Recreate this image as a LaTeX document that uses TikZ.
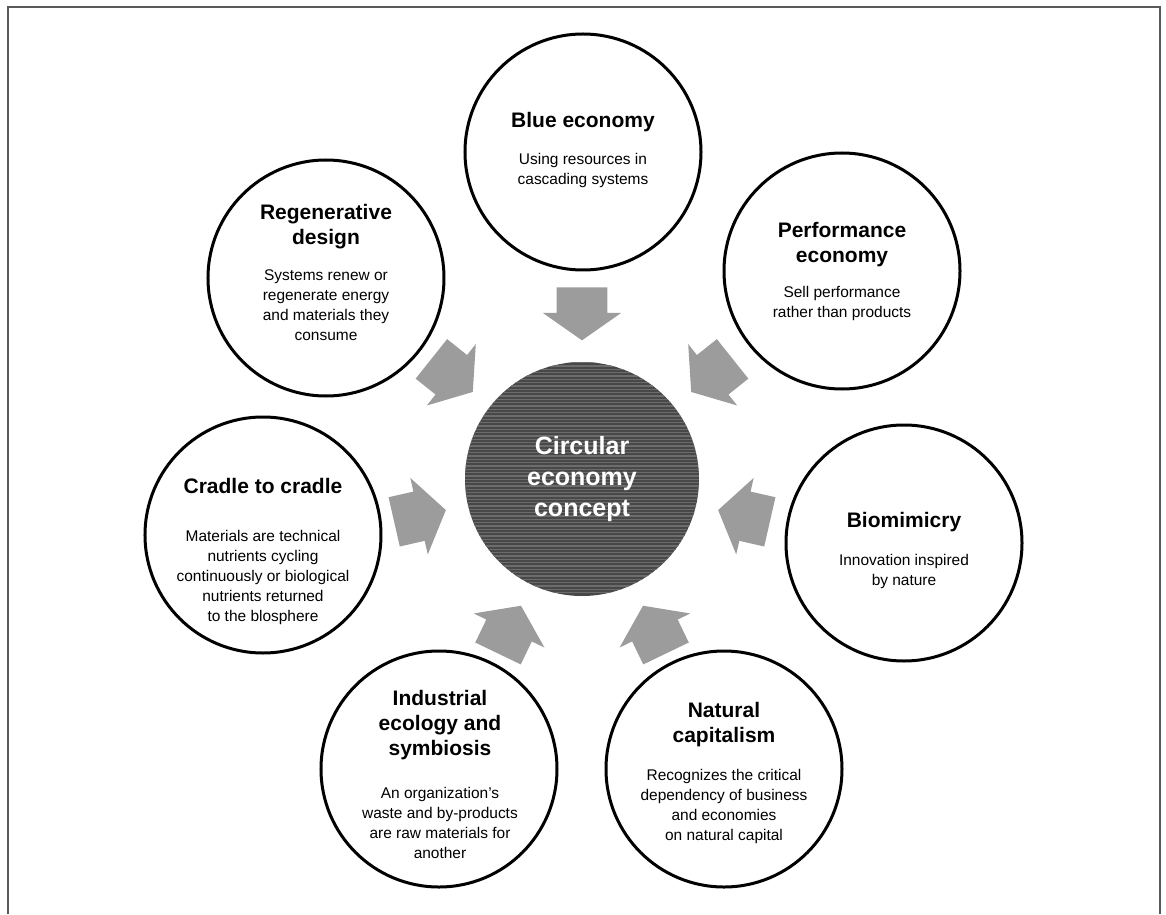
\documentclass[tikz,border=0pt]{standalone}
\usepackage{fontspec}
\setmainfont{Liberation Sans}
\usetikzlibrary{shapes.arrows}
\definecolor{arrowgray}{HTML}{9C9C9C}
\definecolor{hubgray}{HTML}{484848}
\definecolor{grain}{HTML}{6C6C6C}
\definecolor{framegray}{HTML}{5A5A5A}
\newcommand{\ttlfont}{\fontsize{15.75}{18.75}\selectfont\bfseries}
\newcommand{\bdyfont}{\fontsize{11.6}{15}\selectfont}
\newcommand{\hubfont}{\fontsize{18.75}{23.25}\selectfont\bfseries}
% title block over body block, #1 = extra space between them
\newcommand{\topictext}[3][13pt]{%
\begin{tabular}{@{}c@{}}
{\ttlfont\begin{tabular}[b]{@{}c@{}}#2\end{tabular}}\\[#1]
{\bdyfont\begin{tabular}[t]{@{}c@{}}#3\end{tabular}}
\end{tabular}}

\begin{document}
\begin{tikzpicture}
[x=0.75pt, y=0.75pt,
topic_circle/.style ={circle, draw, line width=2.25pt, minimum size=177pt, inner sep=0pt},
topic_text/.style ={align=center, inner sep=0pt},
hub_circle/.style ={circle, fill=hubgray, minimum size=175.5pt, inner sep=0pt, text=white, font=\hubfont, align=center,
  path picture={\foreach \k in {1,...,70}
    \draw[grain, line width=0.8pt] ([yshift=\k*2.5pt]path picture bounding box.south west) -- ([yshift=\k*2.5pt]path picture bounding box.south east);}},
flow_arrow/.style ={single arrow, fill=arrowgray, draw=none, inner xsep=0pt, inner ysep=18.75pt, minimum height=39.75pt,
  single arrow head extend=10.5pt, single arrow tip angle=110}]

\useasboundingbox (-582,-435) rectangle (584,479);
\draw[framegray, line width=1.5pt] (-574,-435) |- (578,472) -- (578,-435);

%%%%% Mitte %%%%%
\node[hub_circle] (hub) at (0,0) {Circular\\economy\\concept};

%%%%% Kreise %%%%%
\node[topic_circle] (blue) at (1,327) {};
\node[topic_text] (blue_txt) at (1,329) {\topictext[13.6pt]{Blue economy}{Using resources in\\cascading systems}};

\node[topic_circle] (regen) at (-256,201) {};
\node[topic_text] (regen_txt) at (-256,205) {\topictext[12.9pt]{Regenerative\\design}{Systems renew or\\regenerate energy\\and materials they\\consume}};

\node[topic_circle] (cradle) at (-319,-56) {};
\node[topic_text] (cradle_txt) at (-319,-73) {\topictext[21.9pt]{Cradle to cradle}{Materials are technical\\nutrients cycling\\continuously or biological\\nutrients returned\\to the blosphere}};

\node[topic_circle] (indus) at (-143,-290) {};
\node[topic_text] (indus_txt) at (-142,-297) {\topictext[18.2pt]{Industrial\\ecology and\\symbiosis}{An organization’s\\waste and by-products\\are raw materials for\\another}};

\node[topic_circle] (natcap) at (142,-290) {};
\node[topic_text] (natcap_txt) at (142,-294) {\topictext[14.4pt]{Natural\\capitalism}{Recognizes the critical\\dependency of business\\and economies\\on natural capital}};

\node[topic_circle] (biomim) at (322,-64) {};
\node[topic_text] (biomim_txt) at (322,-72) {\topictext[14.4pt]{Biomimicry}{Innovation inspired\\by nature}};

\node[topic_circle] (perf) at (260,208) {};
\node[topic_text] (perf_txt) at (260,207) {\topictext[12.2pt]{Performance\\economy}{Sell performance\\rather than products}};

%%%%% Pfeile zur Mitte %%%%%
\node[flow_arrow, rotate=270] (blue_arr) at (90:174) {};
\node[flow_arrow, rotate=321.43] (regen_arr) at (141.43:175) {};
\node[flow_arrow, rotate=12.86] (cradle_arr) at (192.86:175) {};
\node[flow_arrow, rotate=64.29] (indus_arr) at (244.29:176) {};
\node[flow_arrow, rotate=115.71] (natcap_arr) at (295.71:176) {};
\node[flow_arrow, rotate=167.14] (biomim_arr) at (347.14:175) {};
\node[flow_arrow, rotate=218.57] (perf_arr) at (38.57:175) {};

\end{tikzpicture}
\end{document}
